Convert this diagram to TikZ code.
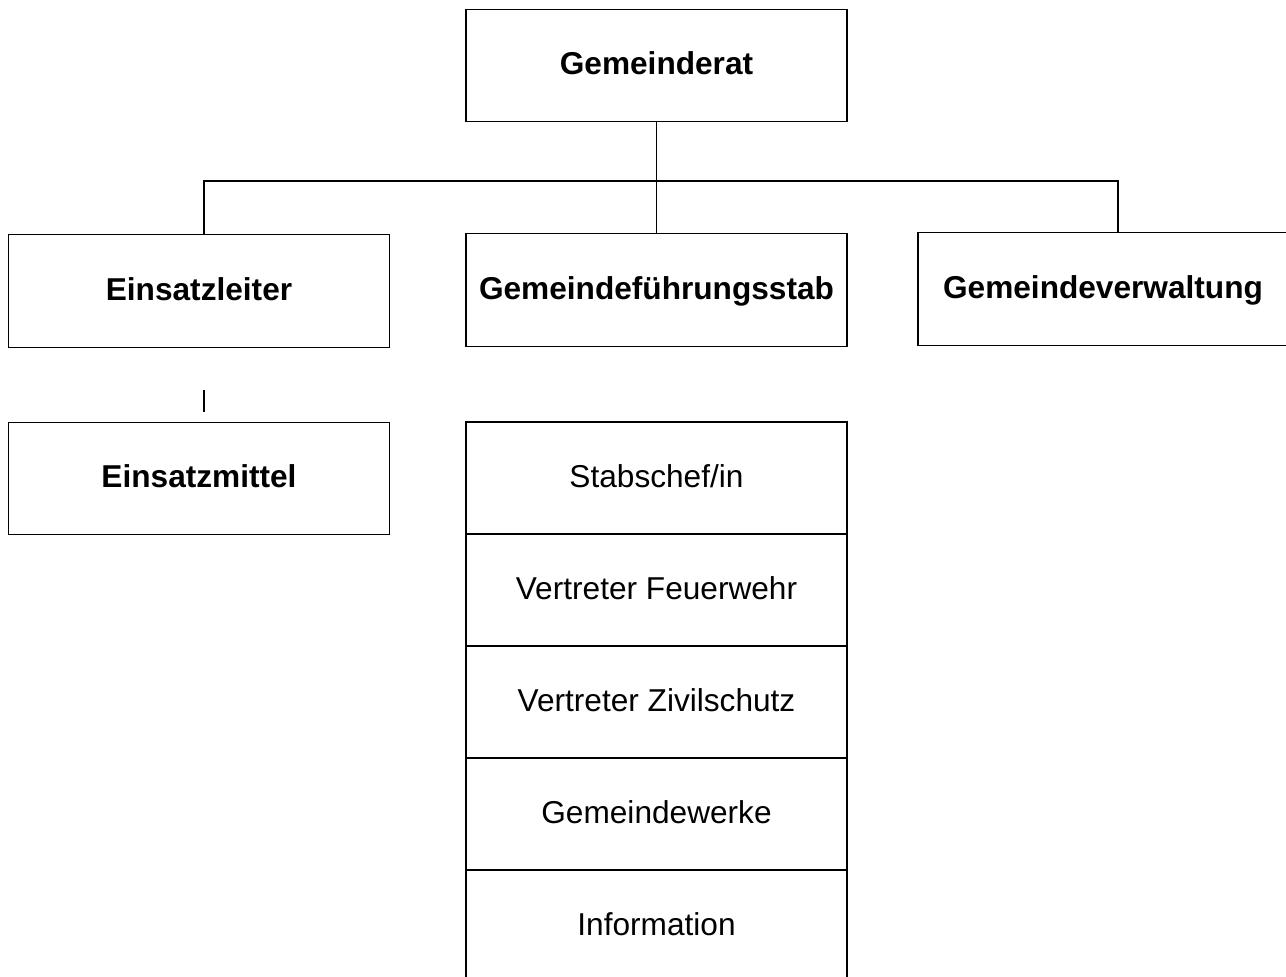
\documentclass[tikz,border=0pt]{standalone}
\usepackage{fontspec}
\setmainfont{Liberation Sans}
\usetikzlibrary{positioning}

\begin{document}
\begin{tikzpicture}[
				x=0.02cm, y=-0.02cm,
				boldnode/.style={rectangle, draw=black, line width=0.8pt, minimum width=7.62cm, minimum height=2.25cm, text height=14pt, text depth=3.4pt, font=\fontsize{18}{21}\selectfont\bfseries},
				rownode/.style={rectangle, draw=black, line width=0.8pt, minimum width=7.62cm, minimum height=2.24cm, text height=14pt, text depth=3.4pt, font=\fontsize{18}{21}\selectfont},
				node distance = -0.8pt,
				]
				\clip (0,0) rectangle (1286,977);
				%Nodes
				\node[boldnode](rat) at (656.5,65.5){Gemeinderat};
				\node[boldnode](stab) at (656.5,290){Gemeindeführungsstab};
				\node[boldnode](leiter) at (199,291){Einsatzleiter};
				\node[boldnode, minimum width=7.4cm](verw) at (1103,289){Gemeindeverwaltung};
				\node[boldnode](mittel) at (199,478.5){Einsatzmittel};
				
				\node[rownode](row1) at (656.5,478){Stabschef/in};
				\node[rownode](row2)[below=of row1]{Vertreter Feuerwehr};
				\node[rownode](row3)[below=of row2]{Vertreter Zivilschutz};
				\node[rownode](row4)[below=of row3]{Gemeindewerke};
				\node[rownode](row5)[below=of row4]{Information};
				
				\coordinate (bus) at (656.5,181);
				\coordinate (tickA) at (204,390);
				\coordinate (tickB) at (204,412);
				
				%Lines
				
				\draw[line width=0.8pt] (rat.south) -- (stab.north);
				\draw[line width=0.8pt] ([xshift=0.1cm]leiter.north) |- (bus) -| ([xshift=0.3cm]verw.north);
				\draw[line width=0.8pt] (tickA) -- (tickB);
				
			\end{tikzpicture}
\end{document}
